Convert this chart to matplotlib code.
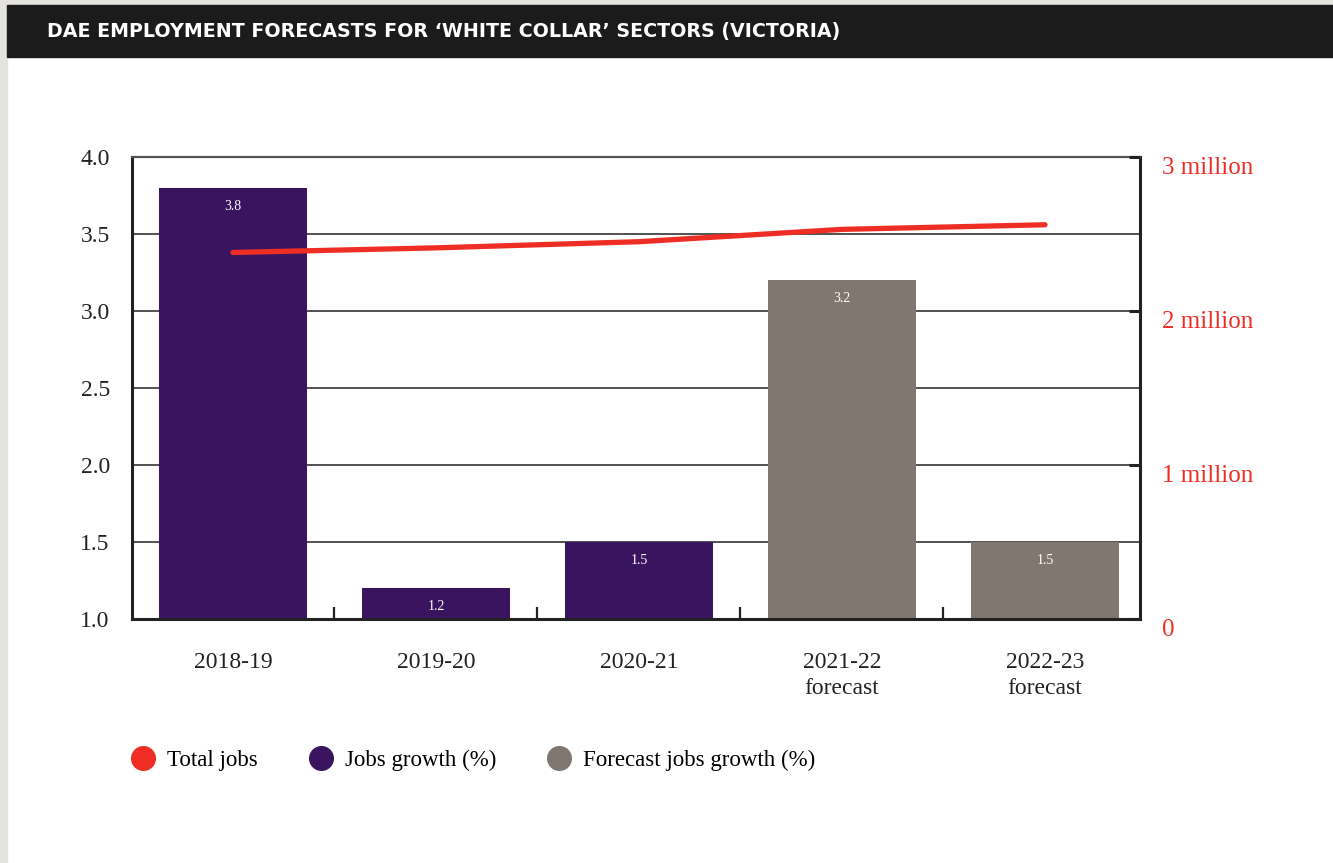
import matplotlib.pyplot as plt
from matplotlib.lines import Line2D
from matplotlib.patches import Rectangle
from matplotlib.ticker import FixedLocator
import numpy as np

# DAE employment forecasts, white collar sectors, Victoria
years = ['2018-19', '2019-20', '2020-21', '2021-22\nforecast', '2022-23\nforecast']
growth = [3.8, 1.2, 1.5, 3.2, 1.5]           # jobs growth (%)
is_forecast = [False, False, False, True, True]
total_jobs = [2.38, 2.41, 2.45, 2.53, 2.56]  # total jobs (millions)

purple = '#3a145e'
grey = '#7f7770'
red = '#ee2e24'
serif = 'Liberation Serif'

fig = plt.figure(figsize=(13.33, 8.63), dpi=100)
fig.patch.set_facecolor('white')

# page edge + header band
fig.patches.append(Rectangle((0, 0), 7/1333, 1, transform=fig.transFigure,
                             color='#e4e3de', zorder=0))
fig.patches.append(Rectangle((0, 1-5/863), 1, 5/863, transform=fig.transFigure,
                             color='#e4e3de', zorder=0))
fig.patches.append(Rectangle((7/1333, 1-57/863), 1, 52/863, transform=fig.transFigure,
                             color='#1b1b1b', zorder=1))
fig.text(47/1333, 1-32/863, 'DAE EMPLOYMENT FORECASTS FOR ‘WHITE COLLAR’ SECTORS (VICTORIA)',
         color='white', fontsize=13.7, fontweight='bold', family='DejaVu Sans',
         va='center', ha='left')

ax = fig.add_axes([132/1333, 1-619/863, 1008/1333, 462/863])
x = np.arange(len(years))
cols = [grey if f else purple for f in is_forecast]
base = 1.0
bars = ax.bar(x, np.array(growth) - base, bottom=base, width=0.725, color=cols, zorder=2)
for xi, v in zip(x, growth):
    ax.text(xi, v - 0.12, f'{v:.1f}', color='white', fontsize=10, family=serif,
            ha='center', va='center', zorder=3)

ax.set_xlim(-0.4975, 4.468)
ax.set_ylim(1.0, 4.0)
ax.set_yticks(np.arange(1.0, 4.01, 0.5))
ax.set_yticklabels([f'{v:.1f}' for v in np.arange(1.0, 4.01, 0.5)],
                   fontsize=17, family=serif, color='#222222')
ax.tick_params(axis='y', length=0, pad=16)
ax.set_xticks(x)
ax.set_xticklabels(years, fontsize=17, family=serif, color='#222222', linespacing=1.3)
ax.tick_params(axis='x', which='major', length=0, pad=24)
ax.xaxis.set_minor_locator(FixedLocator([0.5, 1.5, 2.5, 3.5]))
ax.tick_params(axis='x', which='minor', direction='in', length=9, width=1.6, color='#222222')
for yv in np.arange(1.5, 3.6, 0.5):
    ax.axhline(yv, color='#222222', lw=1.1, zorder=1)

for side in ['left', 'bottom', 'right']:
    ax.spines[side].set_linewidth(2.2)
    ax.spines[side].set_color('#222222')
ax.spines['top'].set_linewidth(1.6)
ax.spines['top'].set_color('#555555')

ax2 = ax.twinx()
ax2.set_ylim(0, 3)
ax2.plot(x, total_jobs, color=red, lw=3.8, solid_capstyle='round', zorder=5)
ax2.set_yticks([0, 1, 2, 3])
ax2.set_yticklabels(['0', '1 million', '2 million', '3 million'],
                    fontsize=18, family=serif, color=red, va='top')
ax2.tick_params(axis='y', direction='in', length=8, width=2.2, color='#222222', pad=16)
for side in ax2.spines.values():
    side.set_visible(False)

handles = [
    Line2D([], [], marker='o', ls='', markersize=17, color=red),
    Line2D([], [], marker='o', ls='', markersize=17, color=purple),
    Line2D([], [], marker='o', ls='', markersize=17, color=grey),
]
labels = ['Total jobs', 'Jobs growth (%)', 'Forecast jobs growth (%)']
fig.legend(handles, labels, loc='center left', bbox_to_anchor=(120/1333, 1-760/863),
           ncol=3, frameon=False, prop={'family': serif, 'size': 16.5},
           handletextpad=0.45, columnspacing=2.15, borderaxespad=0, handlelength=1.2)

fig.savefig('out.png', dpi=100)
